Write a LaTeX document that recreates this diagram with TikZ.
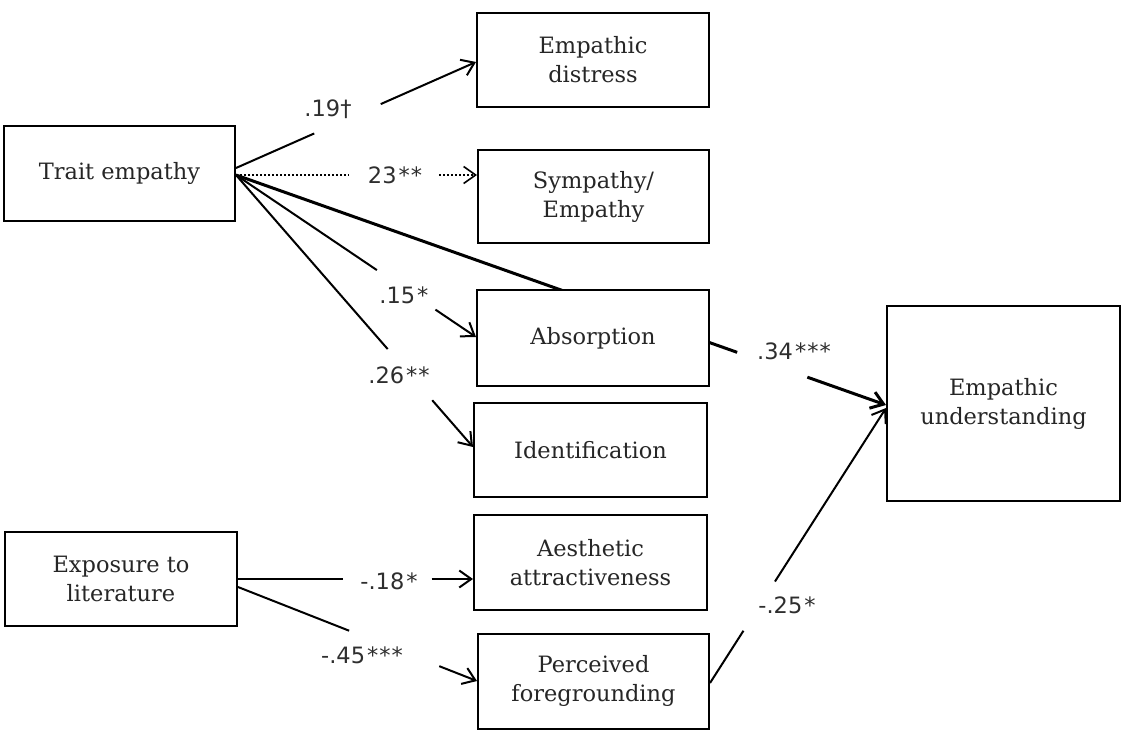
\documentclass[tikz,border=0pt]{standalone}
\usepackage{fontspec}
\setmainfont{DejaVu Serif}
\newfontfamily\labelfont{DejaVu Sans}
\usetikzlibrary{arrows.meta,backgrounds}

% path with a gap between two positions; arrow head at the far end
\newcommand\gapped[5][]{%
  \path (#2) -- (#3) coordinate[pos=#4] (ga) coordinate[pos=#5] (gb);
  \draw[link,#1] (#2) -- (ga);
  \draw[link,#1,-{Straight Barb[length=12pt,width=17pt]}] (gb) -- (#3);
}

\tikzset{
  box/.style={draw=black, fill=white, line width=2pt, align=center,
    inner sep=0pt, font=\fontsize{22.5}{29}\selectfont, text=black!85},
  link/.style={line width=2pt, draw=black},
  coef/.style={font=\labelfont\fontsize{22.5}{26}\selectfont, text=black!82, inner sep=0pt},
}

\begin{document}
\begin{tikzpicture}[x=1pt,y=-1pt]
\useasboundingbox (0,0) rectangle (1123,731);

% variables
\node[box, minimum width=231pt, minimum height=95pt] (te) at (119.5,173.5) {Trait empathy};
\node[box, minimum width=232pt, minimum height=94pt] (el) at (121,579) {Exposure to\\literature};
\node[box, minimum width=232pt, minimum height=94pt] (ed) at (593,60) {Empathic\\distress};
\node[box, minimum width=231pt, minimum height=93pt] (se) at (593.5,196.5) {Sympathy/\\Empathy};
\node[box, minimum width=232pt, minimum height=96pt] (ab) at (593,338) {Absorption};
\node[box, minimum width=233pt, minimum height=94pt] (id) at (590.5,450) {Identification};
\node[box, minimum width=233pt, minimum height=95pt] (aa) at (590.5,562.5) {Aesthetic\\attractiveness};
\node[box, minimum width=231pt, minimum height=95pt] (pf) at (593.5,681) {Perceived\\foregrounding};
\node[box, minimum width=233pt, minimum height=195pt] (eu) at (1003.5,403.5) {Empathic\\understanding};

% direct effect of trait empathy, passing behind the Absorption box
\begin{pgfonlayer}{background}
\gapped[line width=3pt]{[yshift=-1.5pt]te.east}{[yshift=-1.5pt]eu.west}{0.771}{0.879}
\end{pgfonlayer}

% paths from trait empathy
\gapped{[yshift=5.5pt]te.east}{[yshift=-2pt]ed.west}{0.326}{0.603}
\gapped[line width=1.6pt, dash pattern=on 1.5pt off 2.5pt]{[yshift=-1.5pt]te.east}{[yshift=21.5pt]se.west}{0.469}{0.844}
\gapped{[yshift=-1.5pt]te.east}{[yshift=1pt]ab.west}{0.587}{0.831}
\gapped{[yshift=-1.5pt]te.east}{[yshift=3pt]id.west}{0.640}{0.828}

% paths from exposure to literature
\gapped{el.east}{[yshift=-16.5pt]aa.west}{0.445}{0.824}
\gapped{[yshift=-8pt]el.east}{pf.west}{0.465}{0.842}

% foregrounding to understanding
\gapped{[yshift=-2pt]pf.east}{[yshift=-4.5pt]eu.west}{0.19}{0.369}

% coefficients
\node[coef] (c1) at (328,109) {.19†};
\node[coef] (c2) at (395,175) {23\kern2pt*\kern1pt*};
\node[coef] (c3) at (404,295) {.15\kern2pt*};
\node[coef] (c4) at (399,375) {.26\kern2pt*\kern1pt*};
\node[coef] (c5) at (794,351) {.34\kern2pt*\kern1pt*\kern1pt*};
\node[coef] (c6) at (787,605) {-.25\kern2pt*};
\node[coef] (c7) at (389,581) {-.18\kern2pt*};
\node[coef] (c8) at (362,655) {-.45\kern2pt*\kern1pt*\kern1pt*};
\end{tikzpicture}
\end{document}
